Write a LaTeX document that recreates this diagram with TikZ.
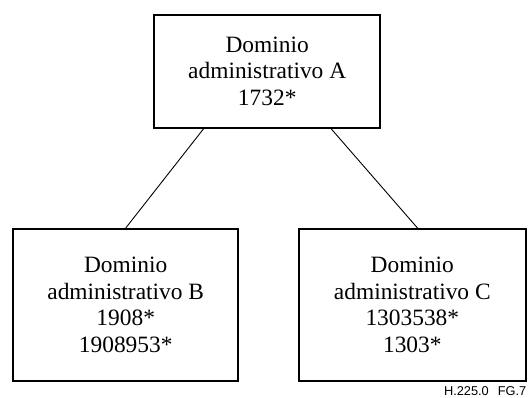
\documentclass[tikz,border=0pt]{standalone}
\usepackage{fontspec}
\setmainfont{Liberation Serif}
\newfontfamily\labelsans{Liberation Sans}
\usetikzlibrary{calc}
\begin{document}
\begin{tikzpicture}[x=1pt,y=-1pt,
  domainbox/.style={draw=black,line width=2pt,align=center,inner sep=0pt,
    font=\fontsize{23.4}{26.8}\selectfont},
  link/.style={draw=black,line width=0.9pt}]
\useasboundingbox (0,0) rectangle (528,398);
\node[domainbox,minimum width=225.5pt,minimum height=112.6pt] (A) at (267.2,71.3)
  {Dominio\\administrativo A\\1732*};
\node[domainbox,minimum width=225.4pt,minimum height=151.5pt] (B) at (125.7,304.8)
  {Dominio\\administrativo B\\1908*\\1908953*};
\node[domainbox,minimum width=227.4pt,minimum height=151.5pt] (C) at (412.3,304.8)
  {Dominio\\administrativo C\\1303538*\\1303*};
\draw[link] ($(A.south)+(-63.5,0)$) -- (B.north);
\draw[link] ($(A.south)+(63.8,0)$) -- ($(C.north)+(5.2,0)$);
\node[anchor=south east,inner sep=0pt,font=\labelsans\fontsize{12.8}{14}\selectfont] (lbl) at (526.5,395.5) {H.225.0\hspace{9pt}FG.7};
\end{tikzpicture}
\end{document}
